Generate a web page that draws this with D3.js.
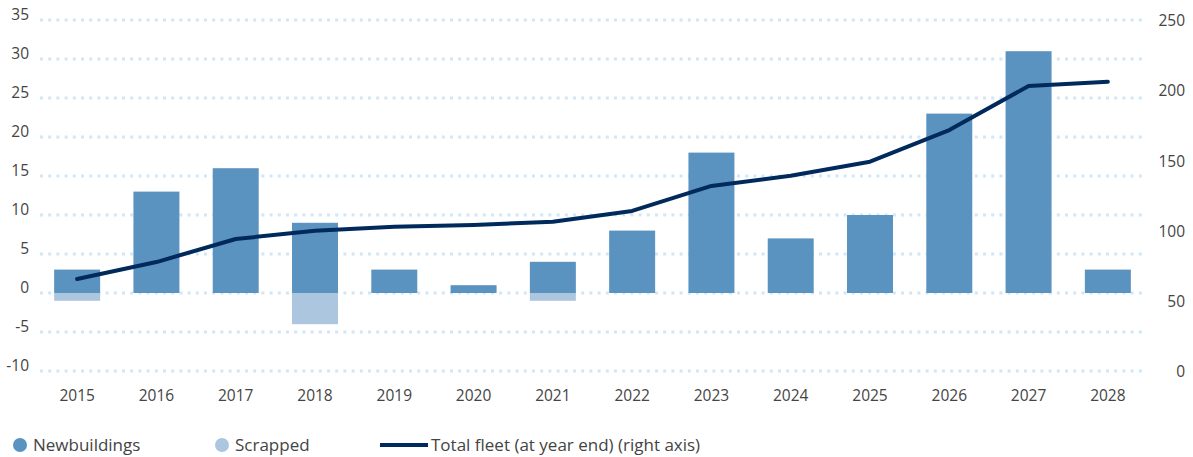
<!DOCTYPE html>
<html>
<head>
<meta charset="utf-8">
<script src="https://cdn.jsdelivr.net/npm/d3@7"></script>
<style>
  body { margin: 0; background: #fff; }
  svg { display: block; }
</style>
</head>
<body>
<svg id="chart" width="1193" height="457"></svg>
<script>
// data
const years = ['2015', '2016', '2017', '2018', '2019', '2020', '2021', '2022', '2023', '2024', '2025', '2026', '2027', '2028'];
const newbuildings = [3, 13, 16, 9, 3, 1, 4, 8, 18, 7, 10, 23, 31, 3];
const scrapped = [-1, 0, 0, -4, 0, 0, -1, 0, 0, 0, 0, 0, 0, 0];
const totalFleet = [65.5, 77.6, 94, 99.9, 102.8, 104, 106.3, 114, 131.8, 139.1, 149.1, 171.6, 203, 206];
const leftTicks = [-10, -5, 0, 5, 10, 15, 20, 25, 30, 35];
const rightTicks = [0, 50, 100, 150, 200, 250];

const palette = {
  newb: '#5b93c0',
  scrap: '#adc6df',
  fleet: '#002a5c',
  grid: '#cfe7f8',
  text: '#444',
  font: '"Open Sans", "Noto Sans", sans-serif'
};

const svg = d3.select('#chart');

const x = d3.scaleBand().domain(years).range([37.5, 1147.5])
  .paddingInner(0.42).paddingOuter(0.21);
const yL = d3.scaleLinear().domain([-10, 35]).range([371, 20]);
const yR = d3.scaleLinear().domain([0, 250]).range([371, 20]);

// dotted grid
svg.append('g').selectAll('line').data(leftTicks).join('line')
  .attr('x1', 40).attr('x2', 1142)
  .attr('y1', d => yL(d)).attr('y2', d => yL(d))
  .style('stroke', palette.grid).style('stroke-width', 3)
  .style('stroke-dasharray', '3 5.2');

// left labels
svg.append('g').selectAll('text').data(leftTicks).join('text')
  .attr('x', 29).attr('y', d => yL(d) - 4)
  .attr('text-anchor', 'end').attr('dominant-baseline', 'middle')
  .style('font-family', palette.font).style('font-size', '15.5px')
  .style('fill', palette.text)
  .text(d => d);

// right labels
svg.append('g').selectAll('text').data(rightTicks).join('text')
  .attr('x', 1185).attr('y', d => yR(d) + 2)
  .attr('text-anchor', 'end').attr('dominant-baseline', 'middle')
  .style('font-family', palette.font).style('font-size', '15.5px')
  .style('fill', palette.text)
  .text(d => d);

// bars
svg.append('g').selectAll('rect').data(years).join('rect')
  .attr('x', d => x(d)).attr('width', x.bandwidth())
  .attr('y', (d, i) => yL(newbuildings[i]))
  .attr('height', (d, i) => yL(0) - yL(newbuildings[i]))
  .style('fill', palette.newb);

svg.append('g').selectAll('rect').data(years.filter((d, i) => scrapped[i] < 0)).join('rect')
  .attr('x', d => x(d)).attr('width', x.bandwidth())
  .attr('y', yL(0))
  .attr('height', d => yL(scrapped[years.indexOf(d)]) - yL(0))
  .style('fill', palette.scrap);

// fleet line
const line = d3.line()
  .x((d, i) => x(years[i]) + x.bandwidth() / 2)
  .y(d => yR(d));
svg.append('path').datum(totalFleet)
  .attr('d', line)
  .style('fill', 'none').style('stroke', palette.fleet)
  .style('stroke-width', 4).style('stroke-linecap', 'round').style('stroke-linejoin', 'round');

// x labels
svg.append('g').selectAll('text').data(years).join('text')
  .attr('x', d => x(d) + x.bandwidth() / 2).attr('y', 401)
  .attr('text-anchor', 'middle')
  .style('font-family', palette.font).style('font-size', '15.5px')
  .style('fill', palette.text)
  .text(d => d);

// legend
const LY = 445;
const legend = svg.append('g');
legend.append('circle').attr('cx', 20).attr('cy', LY).attr('r', 7).style('fill', palette.newb);
legend.append('text').attr('x', 33).attr('y', LY + 1).attr('dominant-baseline', 'middle')
  .style('font-family', palette.font).style('font-size', '17px').style('fill', palette.text)
  .text('Newbuildings');
legend.append('circle').attr('cx', 222).attr('cy', LY).attr('r', 7).style('fill', palette.scrap);
legend.append('text').attr('x', 235).attr('y', LY + 1).attr('dominant-baseline', 'middle')
  .style('font-family', palette.font).style('font-size', '17px').style('fill', palette.text)
  .text('Scrapped');
legend.append('line').attr('x1', 380).attr('x2', 428).attr('y1', LY).attr('y2', LY)
  .style('stroke', palette.fleet).style('stroke-width', 4);
legend.append('text').attr('x', 431).attr('y', LY + 1).attr('dominant-baseline', 'middle')
  .style('font-family', palette.font).style('font-size', '17px').style('fill', palette.text)
  .text('Total fleet (at year end) (right axis)');
</script>
</body>
</html>
